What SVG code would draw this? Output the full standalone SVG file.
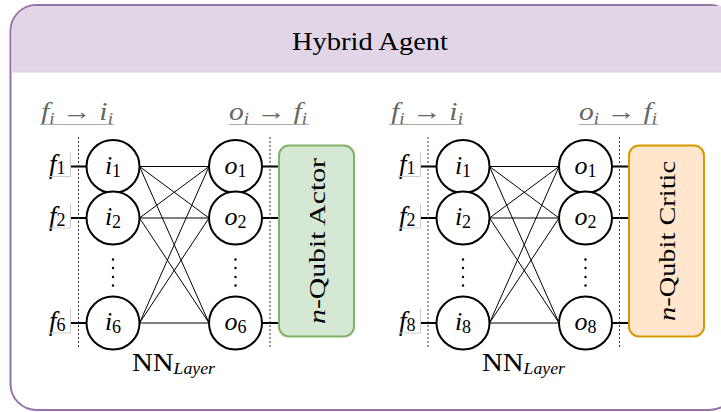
<svg xmlns="http://www.w3.org/2000/svg" width="721" height="412" viewBox="0 0 721 412">
  <style>
    .serif { font-family: "Liberation Serif", "DejaVu Serif", serif; }
    .math { font-family: "Liberation Serif", "DejaVu Serif", serif; font-style: italic; }
    .node { fill: #ffffff; stroke: #000000; stroke-width: 2; }
    .lbl { font-size: 26px; text-anchor: middle; fill: #000; }
    .sub { font-size: 18px; font-style: normal; }
    .subi { font-size: 16px; font-style: italic; }
    .edge { stroke: #000; stroke-width: 1; fill: none; }
    .stub { stroke: #000; stroke-width: 2; fill: none; }
    .sep { stroke: #333; stroke-width: 1; stroke-dasharray: 2 2; fill: none; }
    .hdr { font-size: 25px; fill: #666; }
    .uline { stroke: #aaa; stroke-width: 1; }
    .fbox { stroke: #ccc; stroke-width: 1; fill: none; }
    .dot { fill: #000; }
  </style>

  <!-- outer container -->
  <g id="hybrid-agent">
    <rect x="10.5" y="5" width="725" height="405" rx="26" ry="26" fill="#ffffff" stroke="#9673a6" stroke-width="2"/>
    <path d="M11.5 72 L11.5 31 A25 25 0 0 1 36.5 6 L734 6 L734 72 Z" fill="#e1d5e7"/>
    <line x1="11.5" y1="72" x2="721" y2="72" stroke="#d8cce0" stroke-width="1"/>
    <text class="serif" x="370" y="50" font-size="26" text-anchor="middle" textLength="156" lengthAdjust="spacingAndGlyphs">Hybrid Agent</text>
  </g>

  <!-- connectors -->
  <g id="connectors">
    <!-- left network: every input to every output -->
    <path class="edge" d="M139.5 166.5 L209 166.5 M139.5 166.5 L209 218 M139.5 166.5 L209 323
                          M139.5 218 L209 166.5 M139.5 218 L209 218 M139.5 218 L209 323
                          M139.5 323 L209 166.5 M139.5 323 L209 218 M139.5 323 L209 323"/>
    <path class="stub" d="M70 166.5 L86.5 166.5 M70 218 L86.5 218 M70 323 L86.5 323
                          M262 166.5 L279 166.5 M262 218 L279 218 M262 323 L279 323"/>
    <!-- right network -->
    <path class="edge" d="M489.5 166.5 L559 166.5 M489.5 166.5 L559 218 M489.5 166.5 L559 323
                          M489.5 218 L559 166.5 M489.5 218 L559 218 M489.5 218 L559 323
                          M489.5 323 L559 166.5 M489.5 323 L559 218 M489.5 323 L559 323"/>
    <path class="stub" d="M420 166.5 L436.5 166.5 M420 218 L436.5 218 M420 323 L436.5 323
                          M612 166.5 L629 166.5 M612 218 L629 218 M612 323 L629 323"/>
    <!-- layer separators -->
    <path class="sep" d="M78.5 137 L78.5 348 M270 137 L270 348 M428 137 L428 348 M619.5 137 L619.5 348"/>
  </g>

  <!-- left network -->
  <g id="left-headers">
    <text class="math hdr" x="41" y="120" textLength="72" lengthAdjust="spacingAndGlyphs">f<tspan class="subi" dy="4">i</tspan><tspan dy="-4" font-style="normal"> → </tspan>i<tspan class="subi" dy="4">i</tspan></text>
    <line class="uline" x1="40" y1="124.5" x2="114" y2="124.5"/>
    <text class="math hdr" x="229" y="120" textLength="78" lengthAdjust="spacingAndGlyphs">o<tspan class="subi" dy="4">i</tspan><tspan dy="-4" font-style="normal"> → </tspan>f<tspan class="subi" dy="4">i</tspan></text>
    <line class="uline" x1="229" y1="124.5" x2="309" y2="124.5"/>
  </g>
  <g id="left-features">
    <text class="math" x="49" y="173" font-size="27">f<tspan class="sub" dy="1">1</tspan></text>
    <path class="fbox" d="M48 176.5 L70.5 176.5 L70.5 152"/>
    <text class="math" x="49" y="224.5" font-size="27">f<tspan class="sub" dy="1">2</tspan></text>
    <path class="fbox" d="M48 228 L70.5 228 L70.5 203.5"/>
    <text class="math" x="49" y="329.5" font-size="27">f<tspan class="sub" dy="1">6</tspan></text>
    <path class="fbox" d="M48 333 L70.5 333 L70.5 308.5"/>
  </g>
  <g id="left-i1"><circle class="node" cx="113" cy="166.5" r="26.5"/><text class="math lbl" x="113" y="173.5">i<tspan class="sub" dy="3">1</tspan></text></g>
  <g id="left-i2"><circle class="node" cx="113" cy="218" r="26.5"/><text class="math lbl" x="113" y="225">i<tspan class="sub" dy="3">2</tspan></text></g>
  <g id="left-i6"><circle class="node" cx="113" cy="323" r="26.5"/><text class="math lbl" x="113" y="330">i<tspan class="sub" dy="3">6</tspan></text></g>
  <g id="left-o1"><circle class="node" cx="235.5" cy="166.5" r="26.5"/><text class="math lbl" x="235.5" y="173.5">o<tspan class="sub" dy="3">1</tspan></text></g>
  <g id="left-o2"><circle class="node" cx="235.5" cy="218" r="26.5"/><text class="math lbl" x="235.5" y="225">o<tspan class="sub" dy="3">2</tspan></text></g>
  <g id="left-o6"><circle class="node" cx="235.5" cy="323" r="26.5"/><text class="math lbl" x="235.5" y="330">o<tspan class="sub" dy="3">6</tspan></text></g>
  <g id="left-ellipsis">
    <circle class="dot" cx="113" cy="259.5" r="1.2"/><circle class="dot" cx="113" cy="268" r="1.2"/><circle class="dot" cx="113" cy="277" r="1.2"/><circle class="dot" cx="113" cy="285.5" r="1.2"/>
    <circle class="dot" cx="235.5" cy="259.5" r="1.2"/><circle class="dot" cx="235.5" cy="268" r="1.2"/><circle class="dot" cx="235.5" cy="277" r="1.2"/><circle class="dot" cx="235.5" cy="285.5" r="1.2"/>
  </g>
  <g id="left-layer-label">
    <text class="serif" x="132" y="371" font-size="26" textLength="83" lengthAdjust="spacingAndGlyphs">NN<tspan class="subi" font-size="19" dy="3">Layer</tspan></text>
  </g>
  <g id="actor">
    <rect x="279" y="145.5" width="75" height="191" rx="10" ry="10" fill="#d5e8d4" stroke="#82b366" stroke-width="2"/>
    <text class="serif" transform="translate(325 241) rotate(-90)" font-size="23" text-anchor="middle" textLength="166" lengthAdjust="spacingAndGlyphs"><tspan font-style="italic">n</tspan>-Qubit Actor</text>
  </g>

  <!-- right network -->
  <g id="right-headers">
    <text class="math hdr" x="391" y="120" textLength="72" lengthAdjust="spacingAndGlyphs">f<tspan class="subi" dy="4">i</tspan><tspan dy="-4" font-style="normal"> → </tspan>i<tspan class="subi" dy="4">i</tspan></text>
    <line class="uline" x1="389" y1="124.5" x2="463" y2="124.5"/>
    <text class="math hdr" x="579" y="120" textLength="78" lengthAdjust="spacingAndGlyphs">o<tspan class="subi" dy="4">i</tspan><tspan dy="-4" font-style="normal"> → </tspan>f<tspan class="subi" dy="4">i</tspan></text>
    <line class="uline" x1="579" y1="124.5" x2="658" y2="124.5"/>
  </g>
  <g id="right-features">
    <text class="math" x="399" y="173" font-size="27">f<tspan class="sub" dy="1">1</tspan></text>
    <path class="fbox" d="M398 176.5 L420.5 176.5 L420.5 152"/>
    <text class="math" x="399" y="224.5" font-size="27">f<tspan class="sub" dy="1">2</tspan></text>
    <path class="fbox" d="M398 228 L420.5 228 L420.5 203.5"/>
    <text class="math" x="399" y="329.5" font-size="27">f<tspan class="sub" dy="1">8</tspan></text>
    <path class="fbox" d="M398 333 L420.5 333 L420.5 308.5"/>
  </g>
  <g id="right-i1"><circle class="node" cx="463" cy="166.5" r="26.5"/><text class="math lbl" x="463" y="173.5">i<tspan class="sub" dy="3">1</tspan></text></g>
  <g id="right-i2"><circle class="node" cx="463" cy="218" r="26.5"/><text class="math lbl" x="463" y="225">i<tspan class="sub" dy="3">2</tspan></text></g>
  <g id="right-i8"><circle class="node" cx="463" cy="323" r="26.5"/><text class="math lbl" x="463" y="330">i<tspan class="sub" dy="3">8</tspan></text></g>
  <g id="right-o1"><circle class="node" cx="585.5" cy="166.5" r="26.5"/><text class="math lbl" x="585.5" y="173.5">o<tspan class="sub" dy="3">1</tspan></text></g>
  <g id="right-o2"><circle class="node" cx="585.5" cy="218" r="26.5"/><text class="math lbl" x="585.5" y="225">o<tspan class="sub" dy="3">2</tspan></text></g>
  <g id="right-o8"><circle class="node" cx="585.5" cy="323" r="26.5"/><text class="math lbl" x="585.5" y="330">o<tspan class="sub" dy="3">8</tspan></text></g>
  <g id="right-ellipsis">
    <circle class="dot" cx="463" cy="259.5" r="1.2"/><circle class="dot" cx="463" cy="268" r="1.2"/><circle class="dot" cx="463" cy="277" r="1.2"/><circle class="dot" cx="463" cy="285.5" r="1.2"/>
    <circle class="dot" cx="585.5" cy="259.5" r="1.2"/><circle class="dot" cx="585.5" cy="268" r="1.2"/><circle class="dot" cx="585.5" cy="277" r="1.2"/><circle class="dot" cx="585.5" cy="285.5" r="1.2"/>
  </g>
  <g id="right-layer-label">
    <text class="serif" x="482" y="371" font-size="26" textLength="83" lengthAdjust="spacingAndGlyphs">NN<tspan class="subi" font-size="19" dy="3">Layer</tspan></text>
  </g>
  <g id="critic">
    <rect x="629" y="145.5" width="75" height="191" rx="10" ry="10" fill="#ffe6cc" stroke="#d79b00" stroke-width="2"/>
    <text class="serif" transform="translate(675 241) rotate(-90)" font-size="23" text-anchor="middle" textLength="160" lengthAdjust="spacingAndGlyphs"><tspan font-style="italic">n</tspan>-Qubit Critic</text>
  </g>
</svg>
